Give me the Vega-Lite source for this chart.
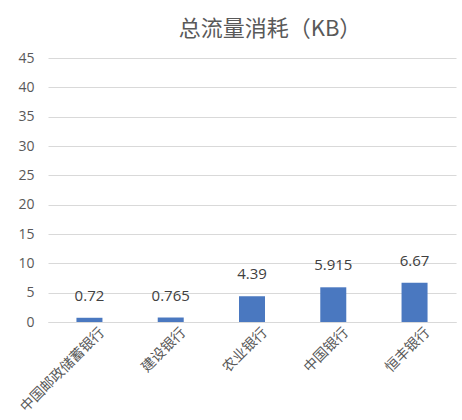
{
  "$schema": "https://vega.github.io/schema/vega-lite/v6.json",
  "width": 408,
  "height": 264,
  "autosize": "none",
  "padding": {"left": 48, "top": 58, "right": 6, "bottom": 98},
  "background": "white",
  "title": {
    "text": "总流量消耗（KB）",
    "font": "Noto Sans CJK SC",
    "fontSize": 22,
    "fontWeight": "normal",
    "color": "#595959",
    "offset": 10,
    "dx": 18
  },
  "data": {
    "values": [
      {"bank": "中国邮政储蓄银行", "kb": 0.72},
      {"bank": "建设银行", "kb": 0.765},
      {"bank": "农业银行", "kb": 4.39},
      {"bank": "中国银行", "kb": 5.915},
      {"bank": "恒丰银行", "kb": 6.67}
    ]
  },
  "encoding": {
    "x": {
      "field": "bank",
      "type": "nominal",
      "sort": null,
      "scale": {"paddingInner": 0, "paddingOuter": 0.01},
      "axis": {
        "title": null,
        "labelAngle": -45,
        "labelFont": "Noto Sans CJK SC",
        "labelFontSize": 14,
        "labelColor": "#595959",
        "ticks": false,
        "domainColor": "#d9d9d9",
        "labelPadding": 3,
        "labelOffset": 8
      }
    },
    "y": {
      "field": "kb",
      "type": "quantitative",
      "scale": {"domain": [0, 45]},
      "axis": {
        "title": null,
        "values": [0, 5, 10, 15, 20, 25, 30, 35, 40, 45],
        "domain": false,
        "ticks": false,
        "gridColor": "#d9d9d9",
        "labelFont": "Open Sans",
        "labelFontSize": 14,
        "labelColor": "#595959",
        "labelPadding": 14
      }
    }
  },
  "layer": [
    {"mark": {"type": "bar", "size": 26, "color": "#4a78c0"}},
    {
      "mark": {
        "type": "text",
        "dy": -14,
        "baseline": "bottom",
        "font": "Open Sans",
        "fontSize": 15,
        "color": "#404040"
      },
      "encoding": {"text": {"field": "kb", "type": "quantitative"}}
    }
  ],
  "config": {"view": {"stroke": null}}
}
